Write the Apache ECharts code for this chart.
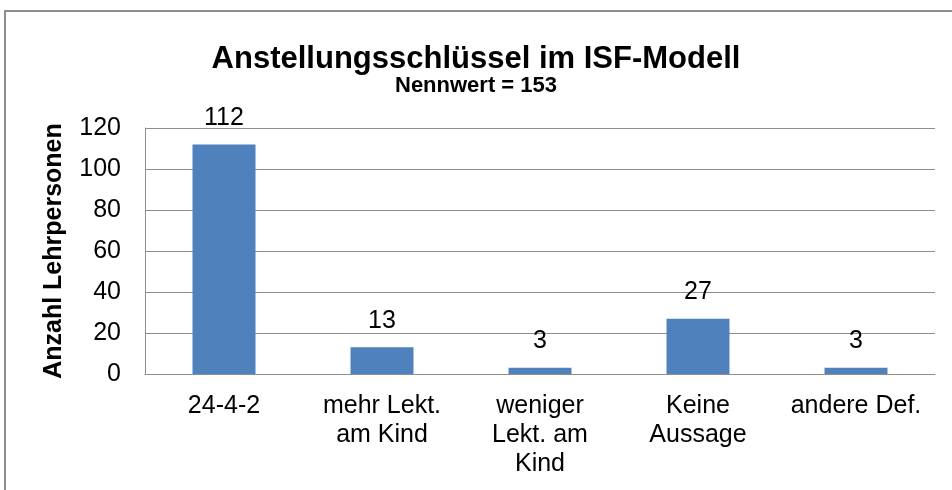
<!DOCTYPE html>
<html lang="de">
<head>
<meta charset="UTF-8">
<title>Anstellungsschlüssel im ISF-Modell</title>
<script src="https://cdn.jsdelivr.net/npm/echarts@6/dist/echarts.min.js"></script>
<style>
  * { margin: 0; padding: 0; }
  body { background: #fff; }
  .frame {
    position: absolute; left: 4px; top: 10px; width: 1000px; height: 600px;
    border: 2px solid #8e8e8e;
  }
  #chart { position: absolute; left: 0; top: 0; width: 952px; height: 490px; }
</style>
</head>
<body>
<div class="frame"></div>
<div id="chart"></div>
<script>
  // Daten
  var categories = ['24-4-2', 'mehr Lekt.\nam Kind', 'weniger\nLekt. am\nKind', 'Keine\nAussage', 'andere Def.'];
  var counts = [112, 13, 3, 27, 3];
  var yTicks = [0, 20, 40, 60, 80, 100, 120];

  var font = 'Arial, "Liberation Sans", sans-serif';
  var chart = echarts.init(document.getElementById('chart'));

  chart.setOption({
    animation: false,
    title: {
      text: 'Anstellungsschlüssel im ISF-Modell',
      subtext: 'Nennwert = 153',
      left: 'center',
      top: 39,
      itemGap: 0,
      textStyle: { fontFamily: font, fontSize: 31, fontWeight: 'bold', color: '#000' },
      subtextStyle: { fontFamily: font, fontSize: 22, fontWeight: 'bold', color: '#000' }
    },
    grid: { left: 145, right: 17, top: 128, bottom: 116 },
    xAxis: {
      type: 'category',
      data: categories,
      axisLine: { lineStyle: { color: '#8e8e8e', width: 1 } },
      axisTick: { show: false },
      axisLabel: {
        interval: 0, margin: 18, color: '#000',
        fontFamily: font, fontSize: 25, lineHeight: 29
      }
    },
    yAxis: {
      type: 'value',
      min: yTicks[0],
      max: yTicks[yTicks.length - 1],
      interval: 20,
      name: 'Anzahl Lehrpersonen',
      nameLocation: 'middle',
      nameGap: 78,
      nameTextStyle: { fontFamily: font, fontSize: 25, fontWeight: 'bold', color: '#000' },
      axisLine: { show: true, lineStyle: { color: '#8e8e8e', width: 1 } },
      axisTick: { show: false },
      splitLine: { lineStyle: { color: '#8e8e8e', width: 1 } },
      axisLabel: { margin: 24, color: '#000', fontFamily: font, fontSize: 25 }
    },
    series: [{
      type: 'bar',
      data: counts,
      barWidth: 63,
      itemStyle: { color: '#4f81bd' },
      label: {
        show: true, position: 'top', distance: 14,
        color: '#000', fontFamily: font, fontSize: 25
      }
    }]
  });
</script>
</body>
</html>
